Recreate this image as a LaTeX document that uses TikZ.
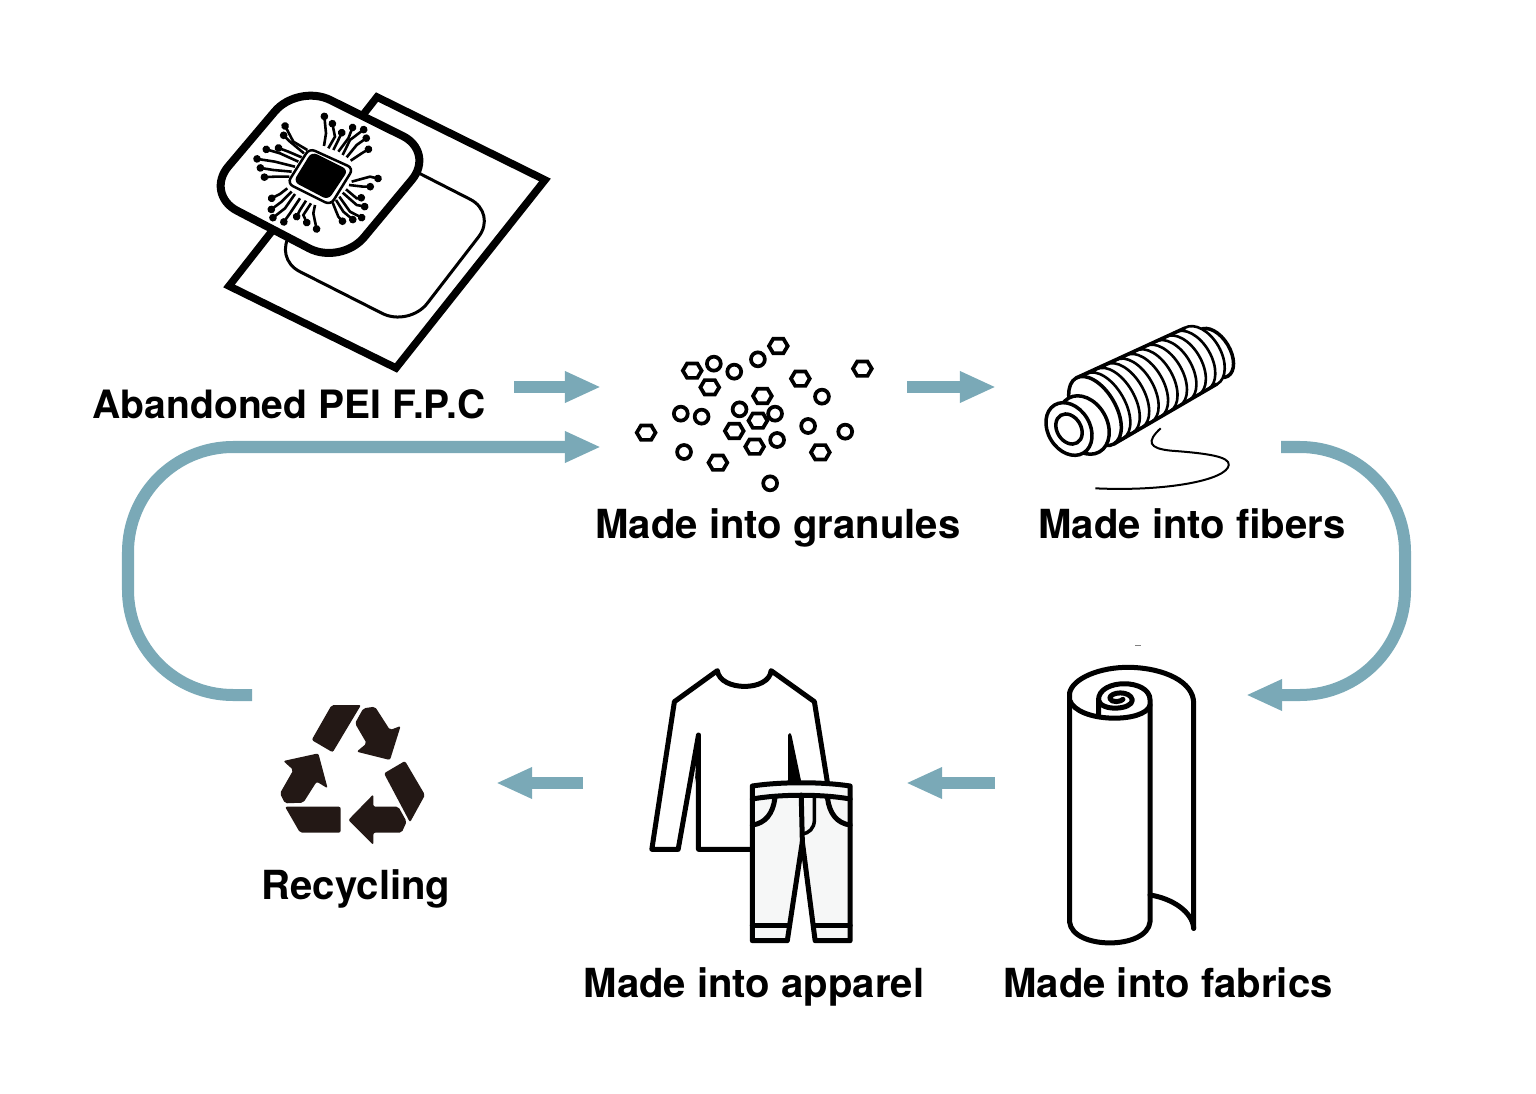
\documentclass[tikz,border=0pt]{standalone}
\usepackage{fontspec}
\setmainfont{TeX Gyre Heros}
\usetikzlibrary{arrows.meta}
\definecolor{flowblue}{HTML}{7AA9B7}
\definecolor{recycledark}{HTML}{231815}
\definecolor{pantsgrey}{HTML}{F6F7F7}
\tikzset{
    stage/.style={font=\bfseries\fontsize{11.4}{12}\selectfont,inner sep=0pt,anchor=base},
    flow/.style={line width=.12cm,flowblue,-{Triangle[length=.36cm,width=.29cm]}},
    loopflow/.style={flow,rounded corners=1.05cm},
    zoomed/.style n args={3}{shift={(#1,#2)},xscale=#3,yscale=1/3},
    trace/.style={line width=.026cm,-{Circle[length=.075cm]}},
    granule/.style={line width=.037cm},
    coil/.style={line width=.026cm,fill=white},
    rim/.style={line width=.035cm,fill=white},
    outline/.style={line width=.05cm,line join=round,line cap=round},
    recycle/.style={fill=recycledark,rounded corners=.02cm},
}
\begin{document}
\begin{tikzpicture}[x=.01cm,y=-.01cm]
    \useasboundingbox (0,0) rectangle (1536,1094);

    \node[stage,font=\bfseries\fontsize{11.1}{12}\selectfont] (fpclabel) at (289,419) {Abandoned PEI F.P.C};
    \node[stage] (granuleslabel) at (778,538) {Made into granules};
    \node[stage] (fiberslabel) at (1192,538) {Made into fibers};
    \node[stage] (fabricslabel) at (1168,997) {Made into fabrics};
    \node[stage] (apparellabel) at (754,997) {Made into apparel};
    \node[stage] (recyclinglabel) at (356,899) {Recycling};

    \coordinate (fpcout) at (514,387);
    \coordinate (granulesin) at (601,387);
    \coordinate (granulesout) at (907,387);
    \coordinate (fibersin) at (996,387);
    \coordinate (fibersout) at (1281,447);
    \coordinate (fabricsin) at (1246,695);
    \coordinate (fabricsout) at (995,783);
    \coordinate (apparelin) at (906,783);
    \coordinate (apparelout) at (583,783);
    \coordinate (recyclingin) at (496,783);
    \coordinate (recyclingout) at (252,695);
    \coordinate (backin) at (601,447);
    \draw[flow] (fpcout) -- (granulesin);
    \draw[flow] (granulesout) -- (fibersin);
    \draw[flow] (fabricsout) -- (apparelin);
    \draw[flow] (apparelout) -- (recyclingin);
    \draw[loopflow] (fibersout) -- (1405,447) -- (1405,695) -- (fabricsin);
    \draw[loopflow] (recyclingout) -- (128,695) -- (128,447) -- (backin);

    \draw[line width=.075cm,miter limit=10] (377,97) -- (545,180) -- (396,368) -- (229,286) -- cycle;
    \draw[line width=.03cm,rounded corners=.3cm] (497,213) -- (409,327) -- (273,258) -- (358,142) -- cycle;
    \draw[line width=.08cm,fill=white,rounded corners=.36cm] (298,84) -- (435,152) -- (341,265) -- (205,194) -- cycle;
    \begin{scope}[zoomed={200}{70}{1/3}]
        \foreach \a/\b/\c/\d/\e/\f in {
            372/228/378/190/372/128, 385/235/405/200/395/150, 400/240/415/210/430/178,
            415/245/445/205/462/162, 428/255/450/210/500/172, 440/262/470/225/508/198,
            452/272/485/250/515/232, 455/335/510/320/545/328, 447/345/490/350/522/350,
            438/358/470/385/495/382, 428/368/470/405/505/412, 418/380/450/425/495/448,
            408/390/430/425/467/456, 398/398/415/440/435/462, 262/355/240/372/205/390,
            275/365/245/395/205/425, 285/372/255/415/210/450, 300/385/270/430/245/465,
            318/392/300/420/285/450, 333/400/310/435/325/468, 345/405/340/430/352/488,
            322/240/280/215/250/158, 312/250/270/215/243/188, 305/262/265/245/225/230,
            295/275/240/250/188/235, 285/290/225/275/160/265, 275/305/220/300/170/292,
            268/320/225/320/182/322}
            \draw[trace] (\a,\b) -- (\c,\d) -- (\e,\f);
        \draw[line width=.025cm,fill=white,rounded corners=.06cm] (328,235) -- (460,295) -- (392,405) -- (262,340) -- cycle;
        \fill[rounded corners=.06cm] (335,245) -- (445,300) -- (385,390) -- (280,335) -- cycle;
    \end{scope}

    \begin{scope}[zoomed={620}{320}{.408}]
        \foreach \x/\y in {177/152,220/202,388/78,442/176,594/146,349/228,338/302,280/333,330/380,64/338,240/428,491/397}
            \draw[granule] (\x,\y) +(0:23) -- +(60:25) -- +(120:25) -- +(180:23) -- +(240:25) -- +(300:25) -- cycle;
        \foreach \x/\y in {230/131,280/155,338/118,495/230,149/281,200/290,293/268,380/281,385/360,461/318,552/335,157/396,368/490}
            \draw[granule] (\x,\y) ellipse (17 and 21);
        \draw[line width=.02cm] (1325,325) .. controls (1290,365) and (1295,385) .. (1350,392) .. controls (1440,400) and (1495,410) .. (1492,435) .. controls (1488,480) and (1340,515) .. (1165,505);
    \end{scope}
    \draw[rim] (1214,353) circle[x radius=16,y radius=27,rotate=31];
    \foreach \i in {0,...,11}
        \draw[coil] ({1201-\i*9.6},{356+\i*5}) circle[x radius=20,y radius={32.5+\i*.45},rotate=30];
    \draw[rim] (1095,411) circle[x radius=21,y radius=38,rotate=30];
    \draw[line width=.035cm] (1076,378) -- (1185,328) (1114,444) -- (1217,384);
    \draw[rim] (1084,425) circle[x radius=23,y radius=31,rotate=30];
    \draw[rim] (1069,429) circle[x radius=21,y radius=28,rotate=31];
    \draw[rim] (1069,429) circle[x radius=12,y radius=16,rotate=31];

    \begin{scope}[zoomed={630}{650}{.3763}]
        \draw[outline] (320,598) -- (182,598) -- (182,255) -- (128,598) -- (58,598) -- (118,155) -- (232,62) .. controls (240,125) and (370,125) .. (375,62) -- (490,155) -- (525,400);
        \fill[line join=round] (182,255) -- (188,300) -- (172,400) -- cycle;
        \fill (420,255) .. controls (425,245) and (428,250) .. (430,260) -- (455,395) -- (420,395) -- cycle;
        \draw[outline,fill=pantsgrey] (325,408) .. controls (400,395) and (510,395) .. (585,408) -- (585,872) -- (492,872) -- (458,575) -- (418,872) -- (325,872) -- cycle;
        \draw[outline] (325,447) .. controls (400,432) and (510,432) .. (585,447);
        \draw[outline] (325,825) -- (418,825) (492,825) -- (585,825);
        \draw[outline] (385,445) .. controls (380,490) and (360,520) .. (325,525);
        \draw[outline] (525,445) .. controls (530,490) and (550,520) .. (585,525);
        \draw[outline] (455,435) -- (458,575);
        \draw[outline,line width=.035cm] (490,440) -- (490,510) .. controls (490,535) and (475,550) .. (458,552);

        \draw[outline,fill=white] (1168,130) .. controls (1175,85) and (1250,50) .. (1330,52) .. controls (1420,55) and (1498,95) .. (1498,160) -- (1498,835);
        \draw[outline] (1382,735) .. controls (1440,745) and (1495,785) .. (1498,835);
        \draw[outline] (1168,130) -- (1168,815) .. controls (1175,900) and (1375,900) .. (1382,815) -- (1382,150) .. controls (1382,85) and (1245,85) .. (1245,150) -- (1245,195);
        \draw[outline] (1168,150) .. controls (1190,220) and (1370,220) .. (1382,165);
        \draw[outline] (1245,150) .. controls (1250,185) and (1335,180) .. (1335,150) .. controls (1330,120) and (1275,125) .. (1275,145) .. controls (1280,160) and (1305,155) .. (1310,148);
    \end{scope}
    \draw[gray,line width=.01cm] (1135,645) -- (1141,645);

    \begin{scope}[zoomed={260}{690}{1/3}]
        \fill[recycle] (215,45) -- (303,45) -- (218,187) -- (155,150) -- cycle;
        \fill[recycle] (285,100) -- (310,55) -- (345,50) -- (390,120) -- (422,108) -- (390,210) -- (290,185) -- (320,160) -- cycle;
        \fill[recycle] (372,250) -- (435,213) -- (495,315) -- (450,397) -- cycle;
        \fill[recycle] (265,390) -- (340,313) -- (340,350) -- (415,350) -- (440,395) -- (425,428) -- (340,428) -- (340,465) -- cycle;
        \fill[recycle] (75,350) -- (242,350) -- (242,428) -- (120,428) -- cycle;
        \fill[recycle] (70,213) -- (175,190) -- (203,295) -- (170,275) -- (130,338) -- (75,340) -- (60,310) -- (100,240) -- cycle;
    \end{scope}
\end{tikzpicture}
\end{document}
